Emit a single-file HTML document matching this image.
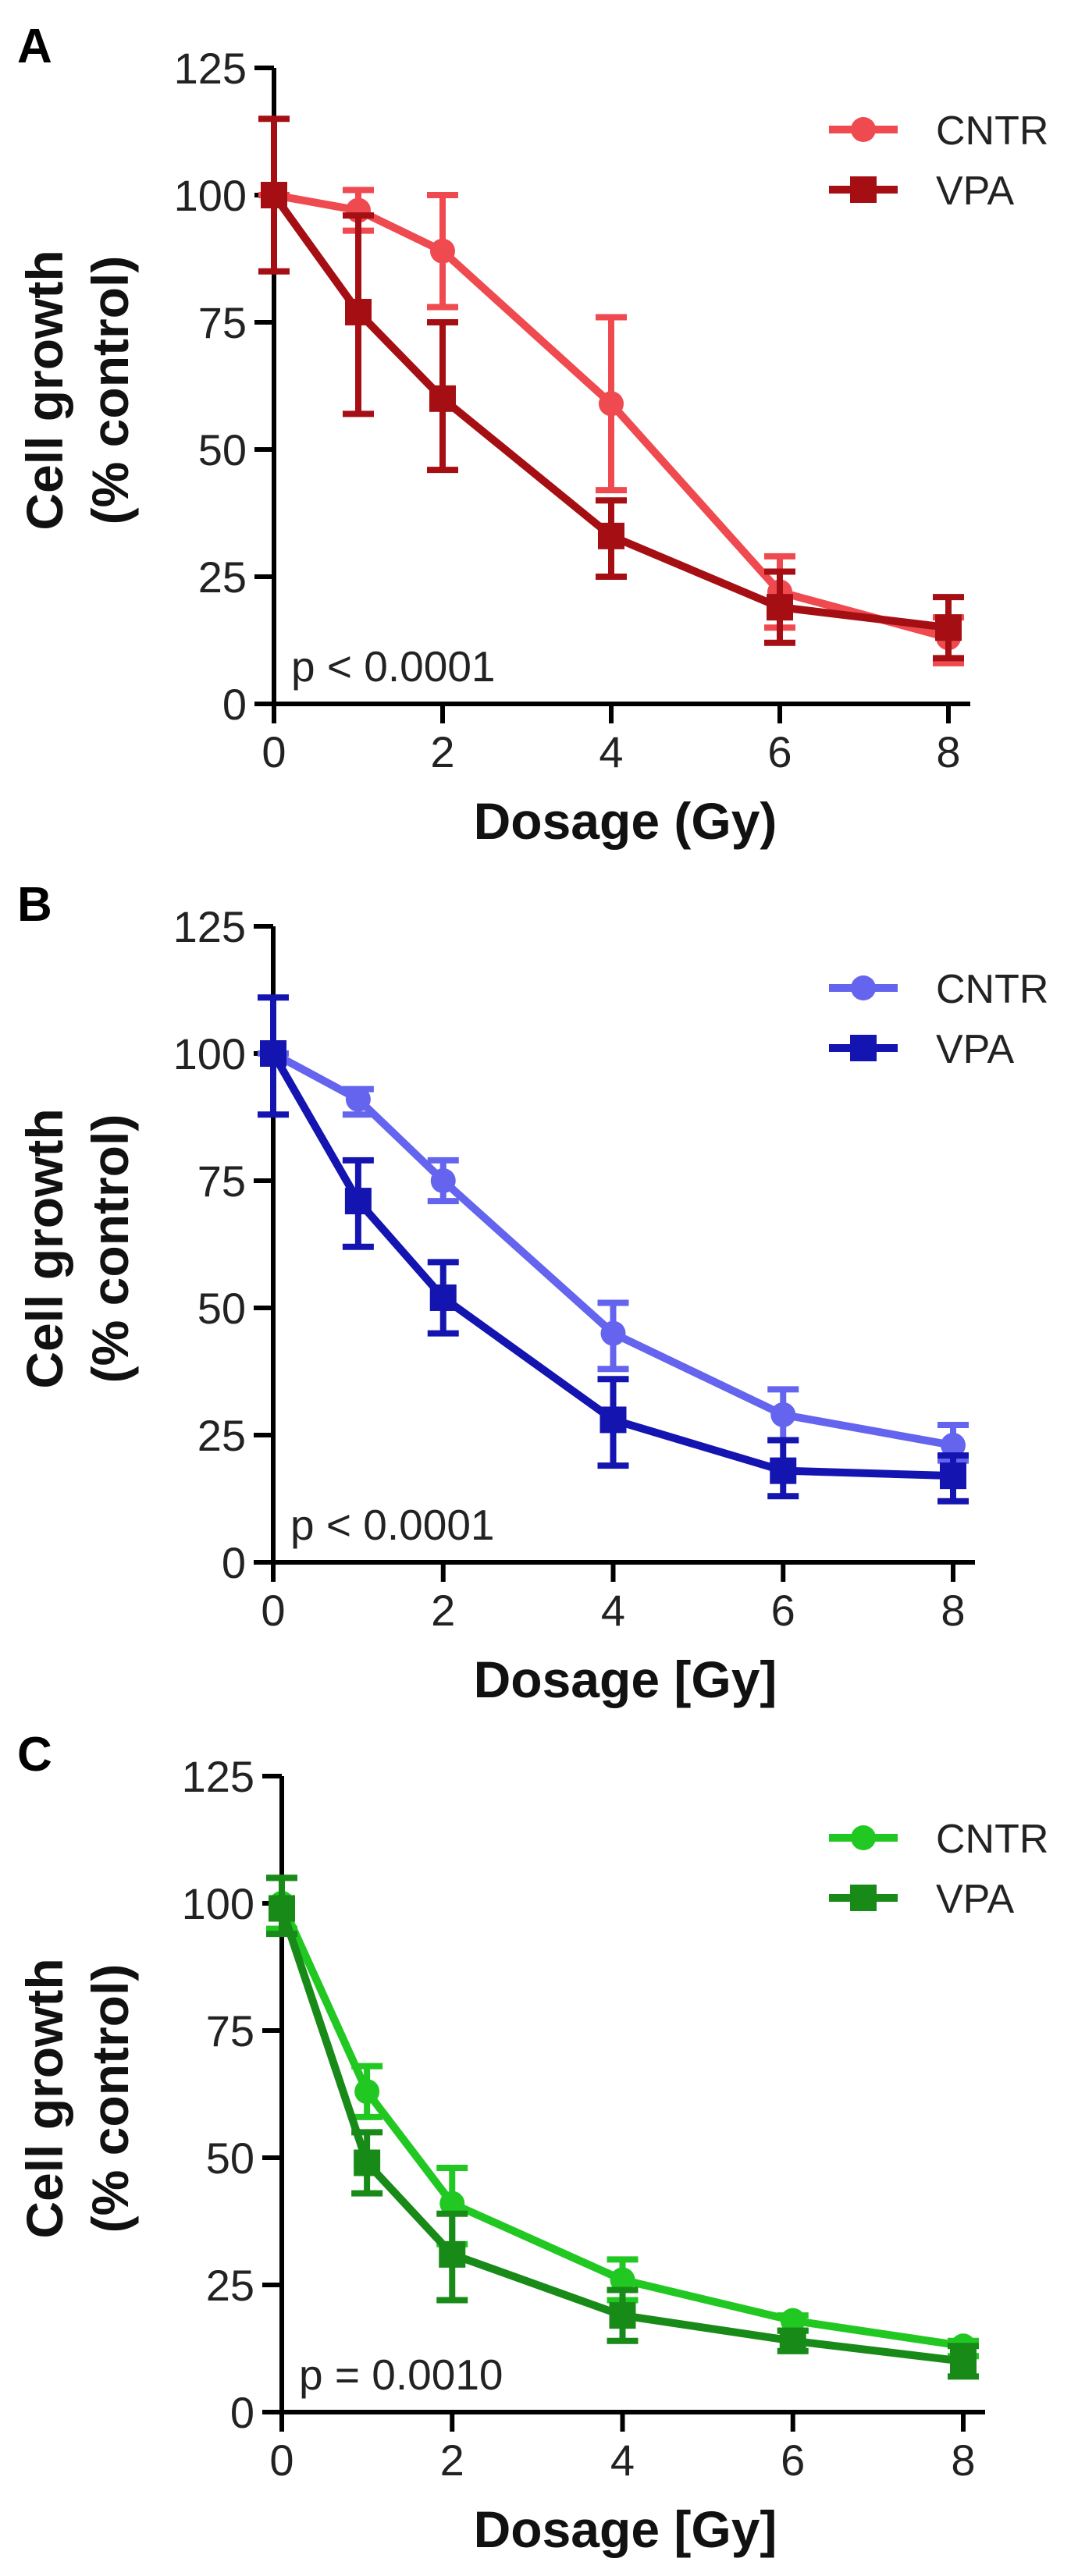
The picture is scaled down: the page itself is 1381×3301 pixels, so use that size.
<!DOCTYPE html>
<html><head><meta charset="utf-8"><style>
html,body{margin:0;padding:0;background:#fff;}
svg{display:block;}
text{font-family:"Liberation Sans",Arial,sans-serif;}
</style></head><body>
<svg id="fig" width="1381" height="3301" viewBox="0 0 1381 3301" xmlns="http://www.w3.org/2000/svg"></svg>
<script>
const doses = [0, 1, 2, 4, 6, 8];
const yTicks = [0, 25, 50, 75, 100, 125];
const xTicks = [0, 2, 4, 6, 8];
const seriesNames = ["CNTR", "VPA"];
const panelLetters = ["A", "B", "C"];
const pLabels = ["p < 0.0001", "p < 0.0001", "p = 0.0010"];
const xTitles = ["Dosage (Gy)", "Dosage [Gy]", "Dosage [Gy]"];
// Panel A
const aCntrMean = [100, 97, 89, 59, 22, 13];
const aCntrLo = [100, 93, 78, 42, 15, 8];
const aCntrHi = [100, 101, 100, 76, 29, 17];
const aVpaMean = [100, 77, 60, 33, 19, 15];
const aVpaLo = [85, 57, 46, 25, 12, 9];
const aVpaHi = [115, 96, 75, 40, 26, 21];
// Panel B
const bCntrMean = [100, 91, 75, 45, 29, 23];
const bCntrLo = [100, 88, 71, 38, 24, 20];
const bCntrHi = [100, 93, 79, 51, 34, 27];
const bVpaMean = [100, 71, 52, 28, 18, 17];
const bVpaLo = [88, 62, 45, 19, 13, 12];
const bVpaHi = [111, 79, 59, 36, 24, 21];
// Panel C
const cCntrMean = [100, 63, 41, 26, 18, 13];
const cCntrLo = [95, 58, 33, 22, 16, 11];
const cCntrHi = [105, 68, 48, 30, 19, 14];
const cVpaMean = [99, 49, 31, 19, 14, 10];
const cVpaLo = [94, 43, 22, 14, 12, 7];
const cVpaHi = [105, 55, 39, 24, 16, 13];

const NS = "http://www.w3.org/2000/svg";
const svg = document.getElementById("fig");
function mk(tag, attrs, parent) {
  const e = document.createElementNS(NS, tag);
  for (const k in attrs) e.setAttribute(k, attrs[k]);
  (parent || svg).appendChild(e);
  return e;
}
const panels = [
  {x0: 351, x8: 1215, y0: 902, colors: ["#ef4a4f", "#a50f14"],
   data: [[aCntrMean, aCntrLo, aCntrHi], [aVpaMean, aVpaLo, aVpaHi]]},
  {x0: 350, x8: 1221, y0: 2002, colors: ["#6464ee", "#1414b0"],
   data: [[bCntrMean, bCntrLo, bCntrHi], [bVpaMean, bVpaLo, bVpaHi]]},
  {x0: 361, x8: 1234, y0: 3091, colors: ["#22c822", "#188a18"],
   data: [[cCntrMean, cCntrLo, cCntrHi], [cVpaMean, cVpaLo, cVpaHi]]}
];
panels.forEach((P, pi) => {
  const g = mk("g", {});
  
  
  const xs = v => P.x0 + (P.x8 - P.x0) * v / 8;
  const ys = v => P.y0 - 815 * v / 125;
  // panel letter
  const L = mk("text", {x: 22, y: P.y0 - 822, "font-size": 62, "font-weight": "bold", fill: "#000"}, g);
  L.textContent = panelLetters[pi];
  
  
  // axes
  const ax = mk("g", {stroke: "#000", "stroke-width": 6, fill: "none"}, g);
  
  
  mk("line", {x1: P.x0, y1: ys(125), x2: P.x0, y2: P.y0 + 25}, ax);
  mk("line", {x1: P.x0 - 25, y1: P.y0, x2: P.x8 + 28, y2: P.y0}, ax);
  yTicks.forEach(t => {
    mk("line", {x1: P.x0 - 25, y1: ys(t), x2: P.x0, y2: ys(t)}, ax);
    const tl = mk("text", {x: P.x0 - 35, y: ys(t) + 20, "font-size": 56, "text-anchor": "end", fill: "#222"}, g);
    tl.textContent = t;
    
    
  });
  xTicks.forEach(t => {
    mk("line", {x1: xs(t), y1: P.y0, x2: xs(t), y2: P.y0 + 25}, ax);
    const tl = mk("text", {x: xs(t), y: P.y0 + 81, "font-size": 56, "text-anchor": "middle", fill: "#222"}, g);
    tl.textContent = t;
    
    
  });
  // titles
  const yt = mk("text", {transform: "translate(80," + (P.y0 - 402) + ") rotate(-90)", "font-size": 66, "font-weight": "bold", "text-anchor": "middle", fill: "#111"}, g);
  yt.textContent = "Cell growth";
  
  
  const yt2 = mk("text", {transform: "translate(164," + (P.y0 - 402) + ") rotate(-90)", "font-size": 66, "font-weight": "bold", "text-anchor": "middle", fill: "#111"}, g);
  yt2.textContent = "(% control)";
  
  
  const xt = mk("text", {x: 801, y: P.y0 + 173, "font-size": 66, "font-weight": "bold", "text-anchor": "middle", fill: "#111"}, g);
  xt.textContent = xTitles[pi];
  
  
  const pt = mk("text", {x: P.x0 + 22, y: P.y0 - 29, "font-size": 55, fill: "#222"}, g);
  pt.textContent = pLabels[pi];
  
  
  // series
  P.data.forEach((S, si) => {
    const col = P.colors[si];
    const sg = mk("g", {}, g);
    
    
    const [m, lo, hi] = S;
    const pts = doses.map((d, i) => xs(d) + "," + ys(m[i])).join(" ");
    mk("polyline", {points: pts, fill: "none", stroke: col, "stroke-width": 10, "stroke-linejoin": "round"}, sg);
    doses.forEach((d, i) => {
      const x = xs(d);
      const eb = mk("g", {stroke: col, "stroke-width": 8, fill: "none"}, sg);
      
      
      mk("line", {x1: x, y1: ys(lo[i]), x2: x, y2: ys(hi[i])}, eb);
      mk("line", {x1: x - 20, y1: ys(lo[i]), x2: x + 20, y2: ys(lo[i])}, eb);
      mk("line", {x1: x - 20, y1: ys(hi[i]), x2: x + 20, y2: ys(hi[i])}, eb);
      let mark;
      if (si === 0) mark = mk("circle", {cx: x, cy: ys(m[i]), r: 16, fill: col}, sg);
      else mark = mk("rect", {x: x - 17, y: ys(m[i]) - 17, width: 34, height: 34, fill: col}, sg);
      
      
    });
    // legend
    const ly = P.y0 - 736 + si * 77;
    const lg = mk("g", {}, g);
    
    
    mk("line", {x1: 1062, y1: ly, x2: 1150, y2: ly, stroke: col, "stroke-width": 10}, lg);
    if (si === 0) mk("circle", {cx: 1106, cy: ly, r: 16, fill: col}, lg);
    else mk("rect", {x: 1089, y: ly - 17, width: 34, height: 34, fill: col}, lg);
    const lt = mk("text", {x: 1199, y: ly + 19, "font-size": 52, fill: "#222"}, lg);
    lt.textContent = seriesNames[si];
  });
});
</script>
</body></html>
